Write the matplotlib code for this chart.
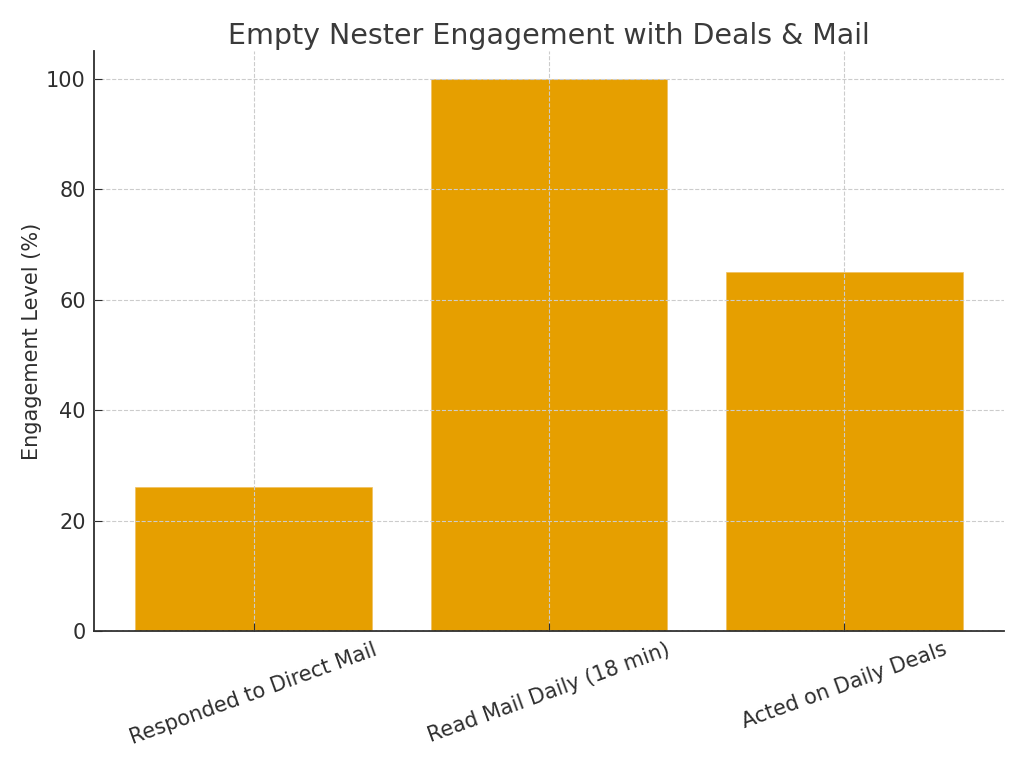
import matplotlib
matplotlib.use("Agg")
import matplotlib.pyplot as plt

categories = ["Responded to Direct Mail", "Read Mail Daily (18 min)", "Acted on Daily Deals"]
engagement = [26, 100, 65]

TEXT = "#2e2e2e"
plt.rcParams["font.family"] = "DejaVu Sans"

fig = plt.figure(figsize=(10.24, 7.68), dpi=100)
ax = fig.add_axes([94/1024, 1 - 631/768, (1004 - 94)/1024, (631 - 51)/768])

ax.bar(categories, engagement, width=0.8, color="#E69F00", edgecolor="#F0C060", linewidth=0.5)
ax.set_axisbelow(False)
ax.grid(True, ls="--", color="#cccccc", lw=0.8)

ax.set_title("Empty Nester Engagement with Deals & Mail", fontsize=20.5, color="#3a3a3a", pad=5)
ax.set_ylabel("Engagement Level (%)", fontsize=15, color=TEXT, labelpad=3)
ax.tick_params(axis="both", direction="in", labelsize=15, colors=TEXT, length=6, pad=6)
plt.setp(ax.get_xticklabels(), rotation=20, ha="center")

for s in ("top", "right"):
    ax.spines[s].set_visible(False)
for s in ("left", "bottom"):
    ax.spines[s].set_color(TEXT)
    ax.spines[s].set_linewidth(1.3)

fig.savefig("out.png", dpi=100)
